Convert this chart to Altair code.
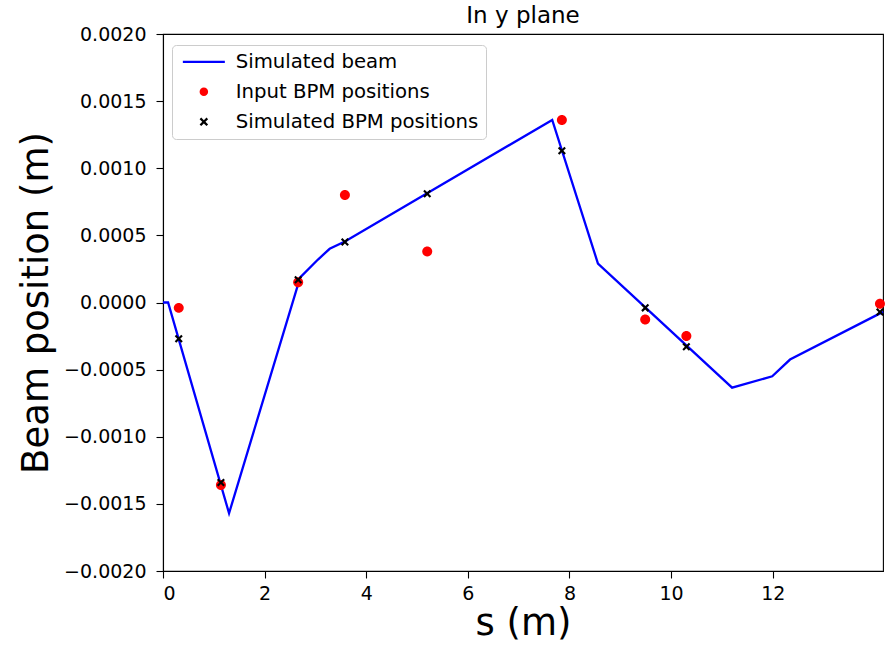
import altair as alt
import pandas as pd

# Simulated beam trajectory (s in m, y in m)
beam_s = [0.0, 0.10, 1.30, 2.70, 3.05, 3.28, 3.58, 7.66, 8.56, 11.20, 11.99, 12.34, 14.17]
beam_y = [0.0, 0.0, -0.00157, 0.000187, 0.00032, 0.00040, 0.000455, 0.00136, 0.00029,
          -0.000634, -0.00055, -0.000425, -0.00007]

# BPM locations and readings
bpm_s = [0.31, 1.14, 2.66, 3.58, 5.20, 7.85, 9.49, 10.30, 14.11]
input_y = [-0.00004, -0.00136, 0.00015, 0.00080, 0.00038, 0.00136, -0.000127, -0.00025, -0.00001]
sim_y = [-0.00027, -0.00134, 0.00017, 0.00045, 0.00081, 0.00113, -0.00004, -0.00033, -0.00007]

series = ["Simulated beam", "Input BPM positions", "Simulated BPM positions"]
colors = ["#0000ff", "#ff0000", "#000000"]

LINE_PATH = "M-4.2,-0.22L4.2,-0.22L4.2,0.22L-4.2,0.22Z"
CIRCLE_PATH = "M0.85,0A0.85,0.85 0 1,1 -0.85,0A0.85,0.85 0 1,1 0.85,0Z"
X_PATH = ("M-0.85,-0.53L-0.53,-0.85L0,-0.32L0.53,-0.85L0.85,-0.53L0.32,0L0.85,0.53"
          "L0.53,0.85L0,0.32L-0.53,0.85L-0.85,0.53L-0.32,0Z")
shapes = [LINE_PATH, CIRCLE_PATH, X_PATH]

beam_df = pd.DataFrame({"s": beam_s, "y": beam_y})
inp_df = pd.DataFrame({"s": bpm_s, "y": input_y, "series": series[1]})
sim_df = pd.DataFrame({"s": bpm_s, "y": sim_y, "series": series[2]})

FONT = "DejaVu Sans"

x_enc = alt.X("s:Q", scale=alt.Scale(domain=[0, 14.17], nice=False, zero=False),
              axis=alt.Axis(values=[0, 2, 4, 6, 8, 10, 12], title="s (m)", format="d"))
y_enc = alt.Y("y:Q", scale=alt.Scale(domain=[-0.002, 0.002], nice=False),
              axis=alt.Axis(values=[-0.002, -0.0015, -0.001, -0.0005, 0, 0.0005, 0.001, 0.0015, 0.002],
                            format=".4f", title="Beam position (m)"))

color_enc = alt.Color("series:N", scale=alt.Scale(domain=series, range=colors),
                      legend=alt.Legend(title=None, orient="none", legendX=9, legendY=11))
shape_enc = alt.Shape("series:N", scale=alt.Scale(domain=series, range=shapes),
                      legend=alt.Legend(title=None, orient="none", legendX=9, legendY=11))

line = alt.Chart(beam_df).mark_line(color="#0000ff", strokeWidth=2.3).encode(x=x_enc, y=y_enc)

circles = alt.Chart(inp_df).mark_point(filled=True, opacity=1, size=138).encode(
    x=x_enc, y=y_enc, color=color_enc, shape=shape_enc)

crosses = alt.Chart(sim_df).mark_point(filled=True, opacity=1, size=89).encode(
    x=x_enc, y=y_enc, color=color_enc, shape=shape_enc)

chart = alt.layer(line, circles, crosses).properties(
    width=720, height=537,
    title=alt.TitleParams("In y plane", fontSize=23, font=FONT, fontWeight="normal",
                          color="black", offset=7, dy=10, anchor="middle", frame="group"),
    autosize=alt.AutoSizeParams(type="none"),
    padding={"left": 163, "top": 34, "right": 5, "bottom": 75},
).configure_view(
    stroke="black", strokeWidth=1.1
).configure_axis(
    labelFont=FONT, titleFont=FONT, labelFontSize=19, titleFontSize=37,
    titleFontWeight="normal", labelColor="black", titleColor="black",
    domainColor="black", domainWidth=1.1, tickColor="black", tickSize=7, tickWidth=1.1,
    labelPadding=6, grid=False
).configure_axisX(
    titlePadding=2
).configure_axisY(
    titlePadding=8, labelPadding=10
).configure_legend(
    labelFont=FONT, labelFontSize=19.7, labelColor="black", labelLimit=0,
    fillColor="rgba(255,255,255,0.8)", strokeColor="#cccccc", cornerRadius=4,
    padding=7, rowPadding=9, symbolSize=100, symbolOffset=15, labelOffset=22,
    symbolStrokeWidth=0
)

chart.save("out.html", embed_options={"renderer": "svg", "actions": False})
